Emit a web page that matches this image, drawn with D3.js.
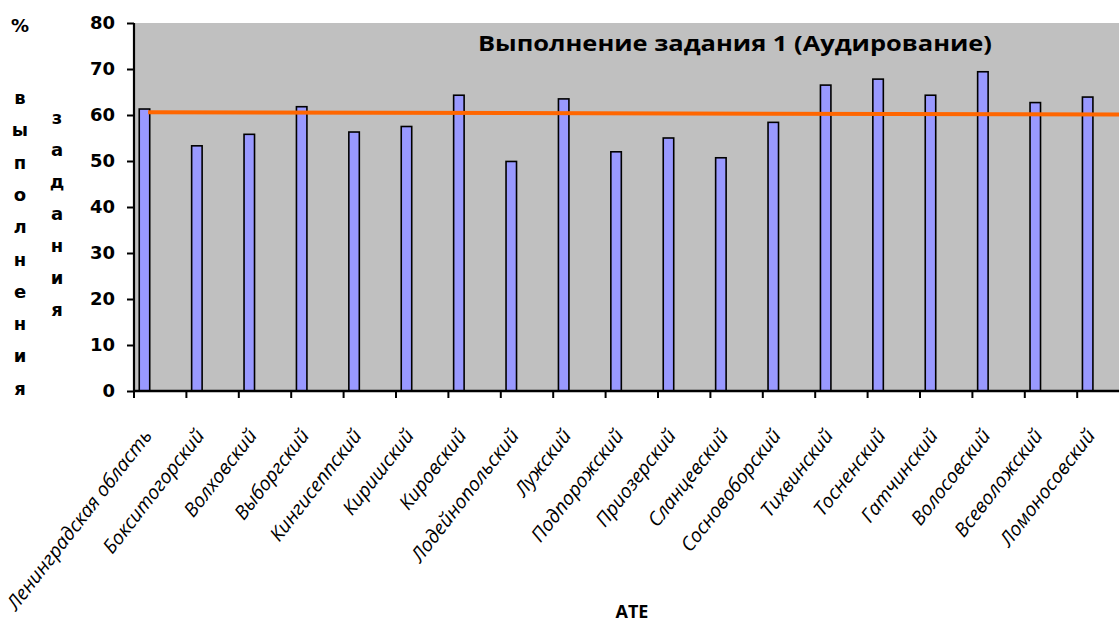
<!DOCTYPE html>
<html>
<head>
<meta charset="utf-8">
<script src="https://cdn.jsdelivr.net/npm/d3@7"></script>
<style>
  html, body { margin: 0; padding: 0; background: #fff; }
  svg { display: block; }
</style>
</head>
<body>
<svg id="chart" width="1119" height="622"></svg>
<script>
const categories = ["Ленинградская область", "Бокситогорский", "Волховский", "Выборгский", "Кингисеппский", "Киришский", "Кировский", "Лодейнопольский", "Лужский", "Подпорожский", "Приозерский", "Сланцевский", "Сосновоборский", "Тихвинский", "Тосненский", "Гатчинский", "Волосовский", "Всеволожский", "Ломоносовский"];
const values = [61.3, 53.3, 55.8, 61.8, 56.3, 57.5, 64.3, 49.9, 63.5, 52.0, 55.0, 50.7, 58.4, 66.5, 67.8, 64.3, 69.4, 62.7, 63.9];
const lineValues = [60.6, 60.08];
const yTicks = [0, 10, 20, 30, 40, 50, 60, 70, 80];
const titleText = "Выполнение задания 1 (Аудирование)";
const yTitle1 = ["%", "", "в", "ы", "п", "о", "л", "н", "е", "н", "и", "я"];
const yTitle2 = ["з", "а", "д", "а", "н", "и", "я"];
const xTitle = "АТЕ";

const svg = d3.select("#chart");
const pLeft = 134, pTop = 23, pBottom = 391;
const bandW = 52.4;
const pRight = pLeft + bandW * categories.length;

const x = d3.scaleBand().domain(categories).range([pLeft, pRight]).paddingInner(0).paddingOuter(0);
const y = d3.scaleLinear().domain([0, 80]).range([pBottom, pTop]);
const bw = x.bandwidth();

// plot background
svg.append("rect").attr("x", pLeft).attr("y", pTop).attr("width", pRight - pLeft).attr("height", pBottom - pTop).attr("fill", "#C0C0C0");

// bars
svg.append("g").selectAll("rect").data(categories).join("rect")
  .attr("x", d => x(d) + bw * 0.1)
  .attr("width", bw * 0.2)
  .attr("y", (d, i) => y(values[i]))
  .attr("height", (d, i) => y(0) - y(values[i]))
  .attr("fill", "#9999FF")
  .attr("stroke", "#000")
  .attr("stroke-width", 1.6);

// orange line
const lineX = [x(categories[0]) + bw * 0.27, pRight];
svg.append("path")
  .datum(lineValues.map((v, i) => [lineX[i], y(v)]))
  .attr("d", d3.line())
  .attr("stroke", "#FF6600").attr("stroke-width", 4).attr("fill", "none");

// y axis
const yAxis = svg.append("g").attr("transform", `translate(${pLeft},0)`)
  .call(d3.axisLeft(y).tickValues(yTicks).tickSize(7).tickPadding(12).tickFormat(d3.format("d")));
yAxis.select(".domain").attr("stroke", "#000").attr("stroke-width", 2.2).attr("d", `M0,${pTop}V${pBottom}`);
yAxis.selectAll(".tick line").attr("stroke", "#000").attr("stroke-width", 2);
yAxis.selectAll(".tick text").attr("font-family", "DejaVu Sans").attr("font-weight", "bold").attr("font-size", 18).attr("fill", "#000");

// x axis
const xAxis = svg.append("g").attr("transform", `translate(0,${pBottom})`)
  .call(d3.axisBottom(x).tickSize(7).tickFormat(""));
xAxis.select(".domain").attr("stroke", "#000").attr("stroke-width", 2.4).attr("d", `M${pLeft},0H${pRight}`);
xAxis.selectAll(".tick").attr("transform", d => `translate(${x(d)},0)`);
xAxis.selectAll(".tick line").attr("stroke", "#000").attr("stroke-width", 2);

// x labels
svg.append("g").selectAll("text").data(categories).join("text")
  .attr("transform", d => `translate(${x(d) + 19},${436}) rotate(-52)`)
  .attr("text-anchor", "end")
  .attr("font-family", "Open Sans")
  .attr("font-style", "italic")
  .attr("font-size", 19.5)
  .attr("fill", "#000")
  .text(d => d);

// title
svg.append("text").attr("x", 735).attr("y", 51).attr("text-anchor", "middle")
  .attr("font-family", "Open Sans").attr("font-weight", "bold").attr("font-size", 22)
  .attr("textLength", 514).attr("lengthAdjust", "spacingAndGlyphs")
  .attr("fill", "#000").text(titleText);

// y titles (stacked letters)
svg.append("g").selectAll("text").data(yTitle1).join("text")
  .attr("x", 20).attr("y", (d, i) => i === 0 ? 32 : 104 + (i - 2) * 32.3)
  .attr("text-anchor", "middle").attr("font-family", "DejaVu Sans").attr("font-weight", "bold").attr("font-size", 18)
  .attr("fill", "#000").text(d => d);
svg.append("g").selectAll("text").data(yTitle2).join("text")
  .attr("x", 57).attr("y", (d, i) => 124 + i * 32)
  .attr("text-anchor", "middle").attr("font-family", "DejaVu Sans").attr("font-weight", "bold").attr("font-size", 18)
  .attr("fill", "#000").text(d => d);

// x title
svg.append("text").attr("x", 632).attr("y", 618).attr("text-anchor", "middle")
  .attr("font-family", "Open Sans").attr("font-weight", "bold").attr("font-size", 18)
  .attr("fill", "#000").text(xTitle);
</script>
</body>
</html>
